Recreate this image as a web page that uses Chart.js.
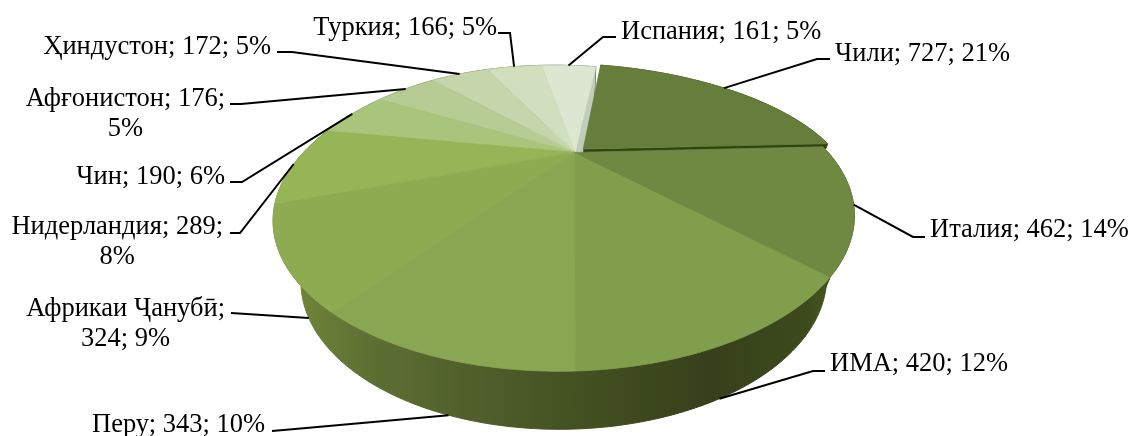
<!DOCTYPE html>
<html>
<head>
<meta charset="utf-8">
<title>Pie</title>
<script src="https://cdn.jsdelivr.net/npm/chart.js@4"></script>
<style>
html, body { margin: 0; padding: 0; background: #fff; }
canvas { display: block; }
</style>
</head>
<body>
<canvas id="pie" width="1131" height="436"></canvas>
<script>
"use strict"

const categories = ['Чили', 'Италия', 'ИМА', 'Перу', 'Африкаи Ҷанубӣ', 'Нидерландия', 'Чин', 'Афғонистон', 'Ҳиндустон', 'Туркия', 'Испания']
const values = [727, 462, 420, 343, 324, 289, 190, 176, 172, 166, 161]
const percents = [21, 14, 12, 10, 9, 8, 6, 5, 5, 5, 5]
const sliceColors = ['#667d3b', '#6f8942', '#809e4c', '#89a653', '#8fab52', '#95b556', '#a9c47b', '#b7cc95', '#c5d6ac', '#d2dfbf', '#dde6d0']

// the two rims of the pie, both seen from above with the same tilt
const tilt = { k: 0.43, m: -0.035, topLean: -0.08 }
const topRim = { x: 575, y: 152.4, rx: 262, ry: 124.6 }
const bottomRim = { x: 574, y: 214.5, rx: 237, ry: 122.3 }

// where each label sits and where its leader bends, same order as categories
const labelLayout = [
    { x: 835, y: 54, align: 'left', bend: [[817, 59], [830, 59]] },
    { x: 930, y: 230, align: 'left', bend: [[913, 237], [925, 237]] },
    { x: 830, y: 364, align: 'left', wall: true, bend: [[813, 371], [825, 371]] },
    { x: 265, y: 425, align: 'right', wall: true, bend: [[295, 429], [272, 431]] },
    { x: 225, y: 309, align: 'right', wall: true, breakAfter: 1, bend: [[231, 313]] },
    { x: 223, y: 227, align: 'right', breakAfter: 2, bend: [[240, 233], [230, 233]] },
    { x: 225, y: 177, align: 'right', bend: [[242, 182], [230, 182]] },
    { x: 225, y: 99, align: 'right', breakAfter: 2, bend: [[241, 104], [230, 104]] },
    { x: 271, y: 47, align: 'right', bend: [[292, 52], [277, 52]] },
    { x: 497, y: 28, align: 'right', bend: [[510, 33], [498, 33]] },
    { x: 621, y: 32, align: 'left', bend: [[603, 37], [616, 37]] }
]

let project = function(rim, angle, radius, shift) {
    let u = Math.cos(angle) * radius + shift.x
    let v = Math.sin(angle) * radius + shift.y
    let w = 1 / (1 - tilt.k * v - tilt.m * u)
    // the far half of the rim leans left a little in the reference
    if (v < 0) u += tilt.topLean * v * v
    return { x: rim.x + rim.rx * u * w, y: rim.y + rim.ry * v * w }
}

let sliceShift = function(arc) {
    let offset = arc.options.offset / arc.outerRadius
    let mid = (arc.startAngle + arc.endAngle) / 2
    return { x: Math.cos(mid) * offset, y: Math.sin(mid) * offset }
}

let traceRim = function(ctx, rim, from, to, shift) {
    let steps = Math.max(4, Math.ceil(Math.abs(to - from) * 60))
    for (let i = 0; i <= steps; i++) {
        let p = project(rim, from + (to - from) * i / steps, 1, shift)
        ctx.lineTo(p.x, p.y)
    }
}

let drawFace = function(ctx, arc, color) {
    let shift = sliceShift(arc)
    let apex = project(topRim, 0, 0, shift)
    ctx.beginPath()
    ctx.moveTo(apex.x, apex.y)
    traceRim(ctx, topRim, arc.startAngle, arc.endAngle, shift)
    ctx.closePath()
    ctx.fillStyle = color
    ctx.strokeStyle = color
    ctx.lineWidth = 0.8
    ctx.fill()
    ctx.stroke()
}

let drawRadialSide = function(ctx, angle, shift, color) {
    let a = project(topRim, 0, 0, shift)
    let b = project(topRim, angle, 1, shift)
    let c = project(bottomRim, angle, 1, shift)
    let d = project(bottomRim, 0, 0, shift)
    ctx.beginPath()
    ctx.moveTo(a.x, a.y)
    ctx.lineTo(b.x, b.y)
    ctx.lineTo(c.x, c.y)
    ctx.lineTo(d.x, d.y)
    ctx.closePath()
    ctx.fillStyle = color
    ctx.fill()
}

let drawWall = function(ctx, arc) {
    let shift = sliceShift(arc)
    let gradient = ctx.createLinearGradient(280, 0, 850, 0)
    gradient.addColorStop(0, '#748a38')
    gradient.addColorStop(0.15, '#5f7034')
    gradient.addColorStop(0.35, '#4f5e2a')
    gradient.addColorStop(0.55, '#424f20')
    gradient.addColorStop(0.75, '#36401b')
    gradient.addColorStop(0.92, '#3c4a1c')
    gradient.addColorStop(1, '#4d6024')
    ctx.beginPath()
    let first = project(topRim, arc.startAngle, 1, shift)
    ctx.moveTo(first.x, first.y)
    traceRim(ctx, topRim, arc.startAngle, arc.endAngle, shift)
    traceRim(ctx, bottomRim, arc.endAngle, arc.startAngle, shift)
    ctx.closePath()
    ctx.fillStyle = gradient
    ctx.strokeStyle = gradient
    ctx.lineWidth = 1
    ctx.fill()
    ctx.stroke()
}

let drawLabel = function(ctx, arc, index) {
    let layout = labelLayout[index]
    let mid = (arc.startAngle + arc.endAngle) / 2
    let anchor = project(layout.wall ? bottomRim : topRim, mid, 1, sliceShift(arc))
    ctx.beginPath()
    ctx.moveTo(anchor.x, anchor.y)
    layout.bend.forEach(p => ctx.lineTo(p[0], p[1]))
    ctx.strokeStyle = '#000'
    ctx.lineWidth = 2
    ctx.stroke()

    let parts = [categories[index] + ';', values[index] + ';', percents[index] + '%']
    ctx.fillStyle = '#000'
    ctx.font = '26.5px "Liberation Serif"'
    ctx.textBaseline = 'middle'
    if (layout.breakAfter) {
        // wrapped labels are centred on their first line
        let one = parts.slice(0, layout.breakAfter).join(' ')
        let two = parts.slice(layout.breakAfter).join(' ')
        let centre = layout.x - ctx.measureText(one).width / 2
        ctx.textAlign = 'center'
        ctx.fillText(one, centre, layout.y)
        ctx.fillText(two, centre, layout.y + 30)
    } else {
        ctx.textAlign = layout.align
        ctx.fillText(parts.join(' '), layout.x, layout.y)
    }
}

const pie3d = {
    id: 'pie3d',
    beforeDatasetsDraw(chart) {
        let ctx = chart.ctx
        let arcs = chart.getDatasetMeta(0).data
        ctx.save()
        ctx.filter = 'blur(0.7px)'
        arcs.forEach(arc => drawWall(ctx, arc))
        // faces uncovered by the pulled out slice
        drawRadialSide(ctx, arcs[10].endAngle, sliceShift(arcs[10]), '#c3cbbb')
        drawRadialSide(ctx, arcs[0].endAngle, sliceShift(arcs[0]), '#34420f')
        drawFace(ctx, arcs[0], sliceColors[0])
        for (let i = 10; i >= 1; i--) drawFace(ctx, arcs[i], sliceColors[i])
        ctx.filter = 'none'
        arcs.forEach((arc, i) => drawLabel(ctx, arc, i))
        ctx.restore()
        return false
    }
}

new Chart(document.getElementById('pie').getContext('2d'), {
    type: 'pie',
    data: {
        labels: categories,
        datasets: [{
            data: values,
            backgroundColor: sliceColors,
            offset: c => c.dataIndex === 0 ? 9 : 0
        }]
    },
    options: {
        responsive: false,
        animation: false,
        rotation: 11,
        plugins: { legend: { display: false }, tooltip: { enabled: false } }
    },
    plugins: [pie3d]
})
</script>
</body>
</html>
